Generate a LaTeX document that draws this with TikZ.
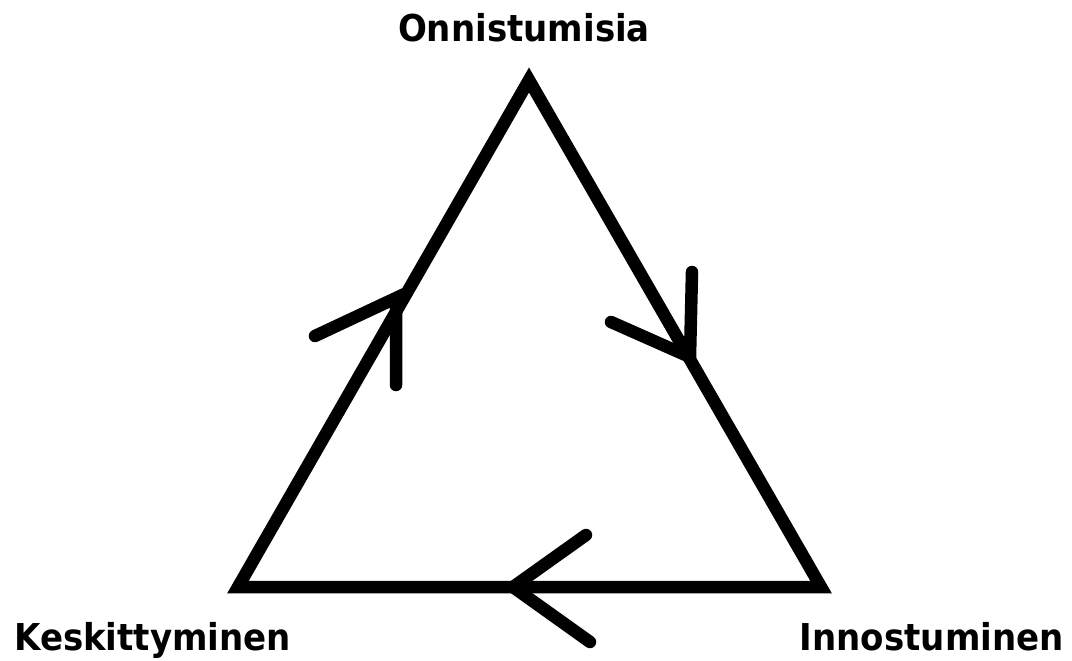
\documentclass[tikz,border=0pt]{standalone}
\usepackage{fontspec}
\setmainfont{DejaVu Sans}[FakeStretch=0.92]
\begin{document}
\begin{tikzpicture}[x=1pt,y=-1pt,
  edge/.style={line width=12.5pt,line join=miter,black},
  head/.style={line width=12.5pt,line cap=round,black},
  lbl/.style={font=\fontsize{37}{40}\selectfont\bfseries,inner sep=0pt,anchor=base}]
\useasboundingbox (0,0) rectangle (1072,661);
\coordinate (T) at (529,80);
\coordinate (L) at (238,587);
\coordinate (R) at (821,587);
\draw[edge] (T) -- (R) -- (L) -- cycle;
% left side arrow (upwards)
\coordinate (a1) at (396,298);
\coordinate (a1u) at (315,336);
\coordinate (a1d) at (396,385);
\draw[head] (a1u) -- (a1) -- (a1d);
% right side arrow (downwards)
\coordinate (a2) at (690,357);
\coordinate (a2u) at (692,272);
\coordinate (a2l) at (611,322);
\draw[head] (a2u) -- (a2) -- (a2l);
% bottom arrow (leftwards)
\coordinate (a3) at (513,587);
\coordinate (a3u) at (586,535);
\coordinate (a3d) at (590,642);
\draw[head] (a3u) -- (a3) -- (a3d);
\node[lbl] (on) at (524,42) {Onnistumisia};
\node[lbl,anchor=base west] (ke) at (14,650) {Keskittyminen};
\node[lbl,anchor=base east] (in) at (1064,650) {Innostuminen};
\end{tikzpicture}
\end{document}
